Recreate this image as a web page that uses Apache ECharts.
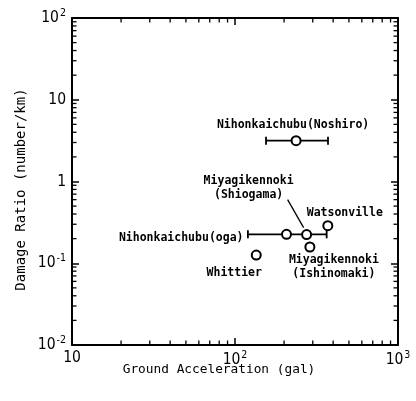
<!DOCTYPE html>
<html><head><meta charset="utf-8">
<script src="https://cdn.jsdelivr.net/npm/echarts@6/dist/echarts.min.js"></script>
<style>html,body{margin:0;padding:0;background:#fff}#c{width:416px;height:401px}</style>
</head><body><div id="c"></div>
<script>
// ---- data ----
var pointNames = ['Nihonkaichubu(Noshiro)', 'Nihonkaichubu(oga)', 'Miyagikennoki\n(Shiogama)', 'Watsonville', 'Miyagikennoki\n(Ishinomaki)', 'Whittier'];
var pointAccel = [237, 207, 275, 371, 288, 135];      // gal
var pointRatio = [3.16, 0.226, 0.224, 0.288, 0.158, 0.126]; // number/km
var errLow  = [155, 120];   // error bar ranges (gal) for first two points
var errHigh = [372, 365];
var xRange = [10, 1000];
var yRange = [0.01, 100];
var xTickLabels = ['10', '10^2', '10^3'];
var yTickLabels = ['10^-2', '10^-1', '1', '10', '10^2'];
var xMinorTicks = [20,30,40,50,60,70,80,90,200,300,400,500,600,700,800,900];
var yMinorTicks = [0.02,0.03,0.04,0.05,0.06,0.07,0.08,0.09,0.2,0.3,0.4,0.5,0.6,0.7,0.8,0.9,2,3,4,5,6,7,8,9,20,30,40,50,60,70,80,90];

// ---- layout / style ----
var labelLayout = [
  {align:'center', offset:[-3,-16]},
  {align:'right', offset:[-43,4]},
  {align:'center', offset:[-58,-47]},
  {align:'center', offset:[17,-13]},
  {align:'center', offset:[24,20]},
  {align:'center', offset:[-22,18]}
];
var monoBold = {fontFamily:'DejaVu Sans Mono', fontWeight:'bold', fontSize:11.5, color:'#000', lineHeight:14};

function toRich(s){
  var p = s.split('^');
  return p.length > 1 ? '{b|' + p[0] + '}{s|' + p[1] + '}' : '{b|' + p[0] + '}';
}
var tickRich = {
  b:{fontFamily:'Liberation Sans Narrow, DejaVu Sans Condensed, sans-serif', fontSize:15.5, color:'#000'},
  s:{fontFamily:'Liberation Sans Narrow, DejaVu Sans Condensed, sans-serif', fontSize:10.5, color:'#000', verticalAlign:'top', padding:[0,0,9,1]}
};
function xLabel(v){ var i = Math.round(Math.log10(v)) - 1; return toRich(xTickLabels[i] || ''); }
function yLabel(v){ var i = Math.round(Math.log10(v)) + 2; return toRich(yTickLabels[i] || ''); }

var scatterData = pointNames.map(function(n,i){
  return {name:n, value:[pointAccel[i], pointRatio[i]],
    label:{show:true, position:'inside', formatter:n, align:labelLayout[i].align, verticalAlign:'middle',
      offset:labelLayout[i].offset, fontFamily:monoBold.fontFamily, fontWeight:'bold', fontSize:monoBold.fontSize, color:'#000', lineHeight:monoBold.lineHeight}};
});
var errData = errLow.map(function(l,i){ return [l, errHigh[i], pointRatio[i], pointAccel[i]]; });

var chart = echarts.init(document.getElementById('c'), null, {renderer:'canvas'});
var baseAxis = {
  type:'log', logBase:10,
  axisLine:{show:true, lineStyle:{color:'#000', width:2}},
  axisTick:{show:true, inside:true, length:7, lineStyle:{color:'#000', width:1.5}},
  splitLine:{show:false}, minorTick:{show:false}, minorSplitLine:{show:false}
};
chart.setOption({
  animation:false,
  backgroundColor:'#fff',
  grid:{left:72, right:18, top:18, bottom:56, containLabel:false},
  xAxis:[
    Object.assign({}, baseAxis, {min:xRange[0], max:xRange[1], position:'bottom',
      axisLabel:{show:true, formatter:xLabel, rich:tickRich, margin:5},
      name:'Ground Acceleration (gal)', nameLocation:'middle', nameGap:18, nameMoveOverlap:false,
      nameTextStyle:{fontFamily:'DejaVu Sans Mono', fontSize:12.8, color:'#000', padding:[0,32,0,0], verticalAlign:'top'}}),
    Object.assign({}, baseAxis, {min:xRange[0], max:xRange[1], position:'top', axisLabel:{show:false}})
  ],
  yAxis:[
    Object.assign({}, baseAxis, {min:yRange[0], max:yRange[1], position:'left',
      axisLabel:{show:true, formatter:yLabel, rich:tickRich, margin:6},
      name:'Damage Ratio (number/km)', nameLocation:'middle', nameGap:44, nameMoveOverlap:false,
      nameTextStyle:{fontFamily:'DejaVu Sans Mono', fontSize:14, color:'#000', padding:[0,16,0,0]}}),
    Object.assign({}, baseAxis, {min:yRange[0], max:yRange[1], position:'right', axisLabel:{show:false}})
  ],
  series:[
    {type:'custom', coordinateSystem:'cartesian2d', silent:true, clip:false, z:3,
      data:xMinorTicks,
      renderItem:function(params, api){
        var v = api.value(0);
        var b = api.coord([v, yRange[0]]), t = api.coord([v, yRange[1]]);
        return {type:'group', children:[
          {type:'line', shape:{x1:b[0], y1:b[1], x2:b[0], y2:b[1]-4.5}, style:{stroke:'#000', lineWidth:1.3}},
          {type:'line', shape:{x1:t[0], y1:t[1], x2:t[0], y2:t[1]+4.5}, style:{stroke:'#000', lineWidth:1.3}}
        ]};
      }, encode:{x:0}},
    {type:'custom', coordinateSystem:'cartesian2d', silent:true, clip:false, z:3,
      data:yMinorTicks,
      renderItem:function(params, api){
        var v = api.value(0);
        var l = api.coord([xRange[0], v]), r = api.coord([xRange[1], v]);
        return {type:'group', children:[
          {type:'line', shape:{x1:l[0], y1:l[1], x2:l[0]+4.5, y2:l[1]}, style:{stroke:'#000', lineWidth:1.3}},
          {type:'line', shape:{x1:r[0], y1:r[1], x2:r[0]-4.5, y2:r[1]}, style:{stroke:'#000', lineWidth:1.3}}
        ]};
      }, encode:{y:0}},
    {type:'custom', coordinateSystem:'cartesian2d', silent:true, z:4,
      data:errData,
      encode:{x:[0,1], y:2},
      renderItem:function(params, api){
        var p1 = api.coord([api.value(0), api.value(2)]);
        var p2 = api.coord([api.value(1), api.value(2)]);
        var st = {stroke:'#000', lineWidth:1.8};
        return {type:'group', children:[
          {type:'line', shape:{x1:p1[0], y1:p1[1], x2:p2[0], y2:p2[1]}, style:st},
          {type:'line', shape:{x1:p1[0], y1:p1[1]-4, x2:p1[0], y2:p1[1]+4}, style:st},
          {type:'line', shape:{x1:p2[0], y1:p2[1]-4, x2:p2[0], y2:p2[1]+4}, style:st}
        ]};
      }},
    {type:'custom', coordinateSystem:'cartesian2d', silent:true, z:4,
      data:[[pointAccel[2], pointRatio[2]]],
      renderItem:function(params, api){
        var p = api.coord([api.value(0), api.value(1)]);
        return {type:'line', shape:{x1:p[0]-19, y1:p[1]-35, x2:p[0]-3, y2:p[1]-7}, style:{stroke:'#000', lineWidth:1.3}};
      }},
    {type:'scatter', z:5, symbol:'circle', symbolSize:9,
      itemStyle:{color:'#fff', borderColor:'#000', borderWidth:2, opacity:1},
      data:scatterData}
  ]
});
</script></body></html>
